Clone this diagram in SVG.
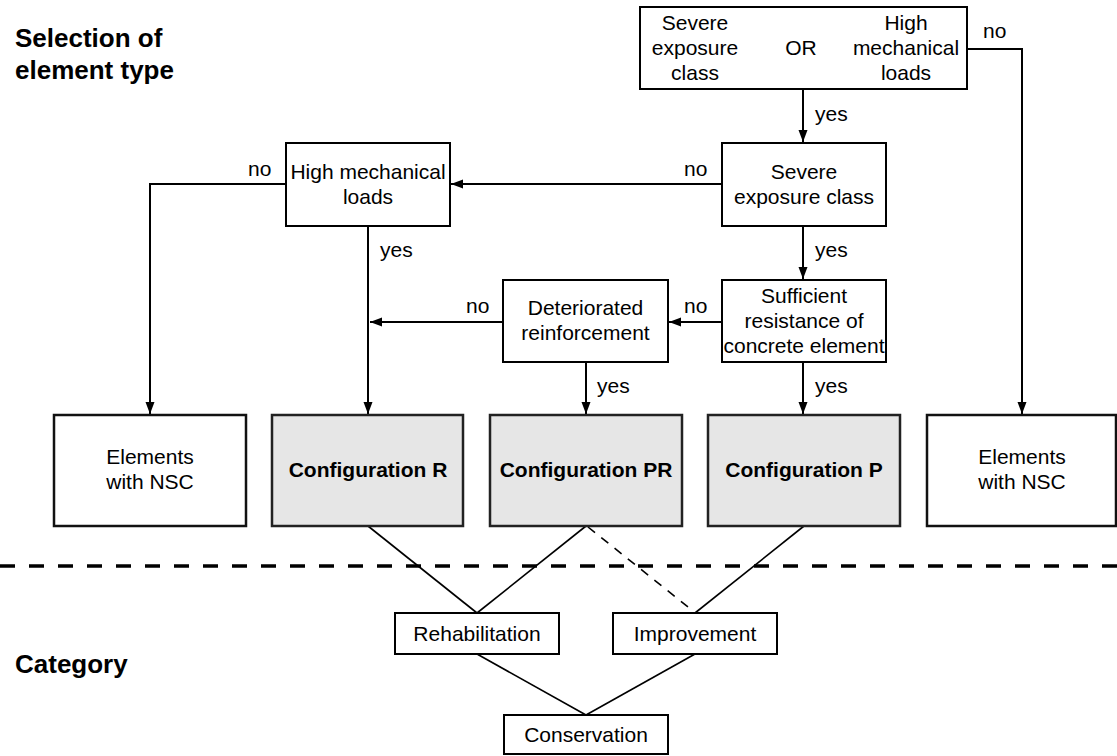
<svg xmlns="http://www.w3.org/2000/svg" width="1117" height="756" viewBox="0 0 1117 756">
  <style>
    text { font-family: "Liberation Sans", Arial, sans-serif; fill: #000; }
    .t { font-size: 21px; text-anchor: middle; }
    .lbl { font-size: 21px; }
    .head { font-size: 26px; font-weight: bold; }
    .cfg { font-size: 21px; font-weight: bold; text-anchor: middle; }
    .box { fill: #fff; stroke: #000; stroke-width: 2; }
    .out { fill: #fff; stroke: #111; stroke-width: 2.5; }
    .grey { fill: #e6e6e6; stroke: #222; stroke-width: 2.5; }
    .arrow { fill: none; stroke: #000; stroke-width: 2; marker-end: url(#ah); }
    .link { fill: none; stroke: #000; stroke-width: 1.6; }
    .dlink { fill: none; stroke: #000; stroke-width: 1.6; stroke-dasharray: 9 8; }
    .divider { fill: none; stroke: #000; stroke-width: 3.5; stroke-dasharray: 15 14; }
  </style>
  <defs>
    <marker id="ah" markerUnits="userSpaceOnUse" markerWidth="13" markerHeight="10" refX="12" refY="4.5" orient="auto">
      <path d="M0,0 L12,4.5 L0,9 z" fill="#000"/>
    </marker>
  </defs>

  <rect width="1117" height="756" fill="#fff"/>

  <!-- section headings -->
  <g id="headings">
    <text class="head" x="15" y="47">Selection of</text>
    <text class="head" x="15" y="79">element type</text>
    <text class="head" x="15" y="673">Category</text>
  </g>

  <!-- boundary between the two sections -->
  <line class="divider" x1="0" y1="566" x2="1117" y2="566"/>

  <!-- connectors -->
  <g id="connectors">
    <polyline class="arrow" points="967,49 1022,49 1022,414"/>
    <line class="arrow" x1="803" y1="89" x2="803" y2="142"/>
    <line class="arrow" x1="722" y1="184" x2="451" y2="184"/>
    <polyline class="arrow" points="286,184 150,184 150,414"/>
    <line class="arrow" x1="368" y1="226" x2="368" y2="414"/>
    <line class="arrow" x1="803" y1="226" x2="803" y2="279"/>
    <line class="arrow" x1="722" y1="322" x2="669" y2="322"/>
    <line class="arrow" x1="503" y1="322" x2="370" y2="322"/>
    <line class="arrow" x1="586" y1="362" x2="586" y2="414"/>
    <line class="arrow" x1="803" y1="362" x2="803" y2="414"/>

    <line class="link" x1="368" y1="526" x2="477" y2="613"/>
    <line class="link" x1="586" y1="526" x2="477" y2="613"/>
    <line class="dlink" x1="588" y1="527" x2="688" y2="607"/>
    <line class="link" x1="804" y1="526" x2="695" y2="613"/>
    <line class="link" x1="477" y1="654" x2="586" y2="715"/>
    <line class="link" x1="695" y1="654" x2="586" y2="715"/>

    <g class="lbl">
      <text x="983" y="38">no</text>
      <text x="815" y="121">yes</text>
      <text x="684" y="176">no</text>
      <text x="248" y="176">no</text>
      <text x="380" y="257">yes</text>
      <text x="815" y="257">yes</text>
      <text x="684" y="313">no</text>
      <text x="466" y="313">no</text>
      <text x="597" y="393">yes</text>
      <text x="815" y="393">yes</text>
    </g>
  </g>

  <!-- decision nodes -->
  <g id="node-either">
    <rect class="box" x="640" y="7" width="327" height="82"/>
    <text class="t" x="695" y="30">Severe</text>
    <text class="t" x="695" y="55">exposure</text>
    <text class="t" x="695" y="80">class</text>
    <text class="t" x="801" y="55">OR</text>
    <text class="t" x="906" y="30">High</text>
    <text class="t" x="906" y="55">mechanical</text>
    <text class="t" x="906" y="80">loads</text>
  </g>

  <g id="node-severe">
    <rect class="box" x="722" y="143" width="164" height="83"/>
    <text class="t" x="804" y="179">Severe</text>
    <text class="t" x="804" y="204">exposure class</text>
  </g>

  <g id="node-high">
    <rect class="box" x="286" y="143" width="164" height="83"/>
    <text class="t" x="368" y="179">High mechanical</text>
    <text class="t" x="368" y="204">loads</text>
  </g>

  <g id="node-sufficient">
    <rect class="box" x="722" y="280" width="164" height="82"/>
    <text class="t" x="804" y="303">Sufficient</text>
    <text class="t" x="804" y="328">resistance of</text>
    <text class="t" x="804" y="353">concrete element</text>
  </g>

  <g id="node-deteriorated">
    <rect class="box" x="503" y="280" width="165" height="82"/>
    <text class="t" x="585.5" y="315">Deteriorated</text>
    <text class="t" x="585.5" y="340">reinforcement</text>
  </g>

  <!-- outcome nodes -->
  <g id="node-nsc-left">
    <rect class="out" x="54" y="415" width="192" height="111"/>
    <text class="t" x="150" y="464">Elements</text>
    <text class="t" x="150" y="489">with NSC</text>
  </g>

  <g id="node-config-r">
    <rect class="grey" x="272" y="415" width="191" height="111"/>
    <text class="cfg" x="368" y="477">Configuration R</text>
  </g>

  <g id="node-config-pr">
    <rect class="grey" x="490" y="415" width="192" height="111"/>
    <text class="cfg" x="586" y="477">Configuration PR</text>
  </g>

  <g id="node-config-p">
    <rect class="grey" x="708" y="415" width="192" height="111"/>
    <text class="cfg" x="804" y="477">Configuration P</text>
  </g>

  <g id="node-nsc-right">
    <rect class="out" x="927" y="415" width="189" height="111"/>
    <text class="t" x="1022" y="464">Elements</text>
    <text class="t" x="1022" y="489">with NSC</text>
  </g>

  <!-- category nodes -->
  <g id="node-rehabilitation">
    <rect class="box" x="395" y="613" width="164" height="41"/>
    <text class="t" x="477" y="641">Rehabilitation</text>
  </g>

  <g id="node-improvement">
    <rect class="box" x="613" y="613" width="164" height="41"/>
    <text class="t" x="695" y="641">Improvement</text>
  </g>

  <g id="node-conservation">
    <rect class="box" x="504" y="715" width="164" height="39"/>
    <text class="t" x="586" y="742">Conservation</text>
  </g>
</svg>
